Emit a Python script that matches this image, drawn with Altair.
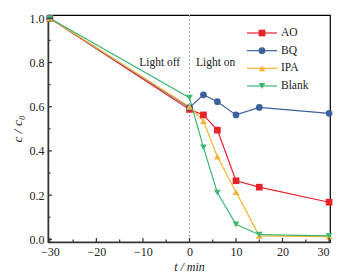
import altair as alt
import pandas as pd

t = [-30, 0, 3, 6, 10, 15, 30]
series = ["AO", "BQ", "IPA", "Blank"]
ao = [1.0, 0.588, 0.563, 0.494, 0.265, 0.236, 0.168]
bq = [1.0, 0.596, 0.654, 0.623, 0.563, 0.597, 0.570]
ipa = [1.0, 0.600, 0.535, 0.374, 0.214, 0.016, 0.012]
blank = [1.0, 0.641, 0.416, 0.211, 0.068, 0.021, 0.016]
colors = ["#e8222b", "#3b619c", "#f9b233", "#3cb873"]
shapes = ["square", "circle", "triangle-up", "triangle-down"]

x_major = [-30, -20, -10, 0, 10, 20, 30]
x_minor = [-25, -15, -5, 5, 15, 25]
y_major = [0.0, 0.2, 0.4, 0.6, 0.8, 1.0]
y_minor = [0.1, 0.3, 0.5, 0.7, 0.9]

rows = []
for name, vals in zip(series, [ao, bq, ipa, blank]):
    for tt, v in zip(t, vals):
        rows.append({"t": tt, "c": v, "series": name})
df = pd.DataFrame(rows)
leg = pd.DataFrame({"series": series, "i": list(range(len(series)))})

W, H = 282, 227
xs = alt.Scale(domain=[-30.4, 30.2], nice=False, zero=False)
ys = alt.Scale(domain=[-0.012, 1.015], nice=False, zero=False)
col = alt.Color("series:N", scale=alt.Scale(domain=series, range=colors), legend=None)
shp = alt.Shape("series:N", scale=alt.Scale(domain=series, range=shapes), legend=None)

X = alt.X("t:Q", scale=xs, title="t / min",
          axis=alt.Axis(values=x_major, format="d", ticks=False, grid=False,
                        labelPadding=4, titlePadding=4, titleFontStyle="italic",
                        domainColor="#333", domainWidth=1.5))
Y = alt.Y("c:Q", scale=ys, title="c  /  c₀",
          axis=alt.Axis(values=y_major, format=".1f", ticks=False, grid=False,
                        labelPadding=4, titlePadding=5, titleFontStyle="italic",
                        titleFontSize=13.5,
                        domainColor="#333", domainWidth=1.5))

base = alt.Chart(df)
vline = alt.Chart(pd.DataFrame({"t": [0]})).mark_rule(
    color="#999", strokeDash=[2, 2], strokeWidth=1).encode(x=alt.X("t:Q", scale=xs))
lines = base.mark_line(strokeWidth=1.2).encode(x=X, y=Y, color=col, detail="series:N")
pts = base.mark_point(filled=True, size=45, opacity=1).encode(
    x=alt.X("t:Q", scale=xs), y=alt.Y("c:Q", scale=ys), color=col, shape=shp)

xmaj = alt.Chart(pd.DataFrame({"t": x_major})).mark_rule(color="#333", strokeWidth=1.2).encode(
    x=alt.X("t:Q", scale=xs), y=alt.value(H), y2=alt.value(H - 4))
xmin = alt.Chart(pd.DataFrame({"t": x_minor})).mark_rule(color="#333", strokeWidth=1.2).encode(
    x=alt.X("t:Q", scale=xs), y=alt.value(H), y2=alt.value(H - 2.5))
ymaj = alt.Chart(pd.DataFrame({"c": y_major})).mark_rule(color="#333", strokeWidth=1.2).encode(
    y=alt.Y("c:Q", scale=ys), x=alt.value(0), x2=alt.value(4))
ymin = alt.Chart(pd.DataFrame({"c": y_minor})).mark_rule(color="#333", strokeWidth=1.2).encode(
    y=alt.Y("c:Q", scale=ys), x=alt.value(0), x2=alt.value(2.5))

txt = alt.Chart(pd.DataFrame({"t": [-2.0, 1.4], "c": [0.8, 0.8],
                              "label": ["Light off", "Light on"],
                              "al": ["right", "left"]}))
toff = txt.transform_filter("datum.al == 'right'").mark_text(
    align="right", baseline="middle", fontSize=11.5, color="#222").encode(
    x=alt.X("t:Q", scale=xs), y=alt.Y("c:Q", scale=ys), text="label:N")
ton = txt.transform_filter("datum.al == 'left'").mark_text(
    align="left", baseline="middle", fontSize=11.5, color="#222").encode(
    x=alt.X("t:Q", scale=xs), y=alt.Y("c:Q", scale=ys), text="label:N")

LY = alt.Y("i:Q", scale=alt.Scale(domain=[0, 3], range=[18, 71], nice=False, zero=False), axis=None)
lrule = alt.Chart(leg).mark_rule(strokeWidth=1.2).encode(
    x=alt.value(199), x2=alt.value(229), y=LY, color=col)
lpts = alt.Chart(leg).mark_point(filled=True, size=45, opacity=1).encode(
    x=alt.value(214), y=LY, color=col, shape=shp)
ltxt = alt.Chart(leg).mark_text(align="left", baseline="middle", fontSize=11.5, color="#222").encode(
    x=alt.value(233), y=LY, text="series:N")

main = alt.layer(vline, lines, pts, xmaj, xmin, ymaj, ymin, toff, ton)
legend = alt.layer(lrule, lpts, ltxt)

chart = alt.layer(main, legend).resolve_scale(y="independent").properties(
    width=W, height=H,
    autosize=alt.AutoSizeParams(type="none"),
    padding={"left": 48, "top": 15, "right": 16, "bottom": 38},
).configure(font="Liberation Serif").configure_view(
    stroke="black", strokeWidth=1.2
).configure_axis(
    labelFontSize=12, titleFontSize=12, labelColor="#222", titleColor="#222",
    labelFont="Liberation Serif", titleFont="Liberation Serif", titleFontWeight="normal"
)

chart.save("out.html", embed_options={"renderer": "svg", "actions": False})
